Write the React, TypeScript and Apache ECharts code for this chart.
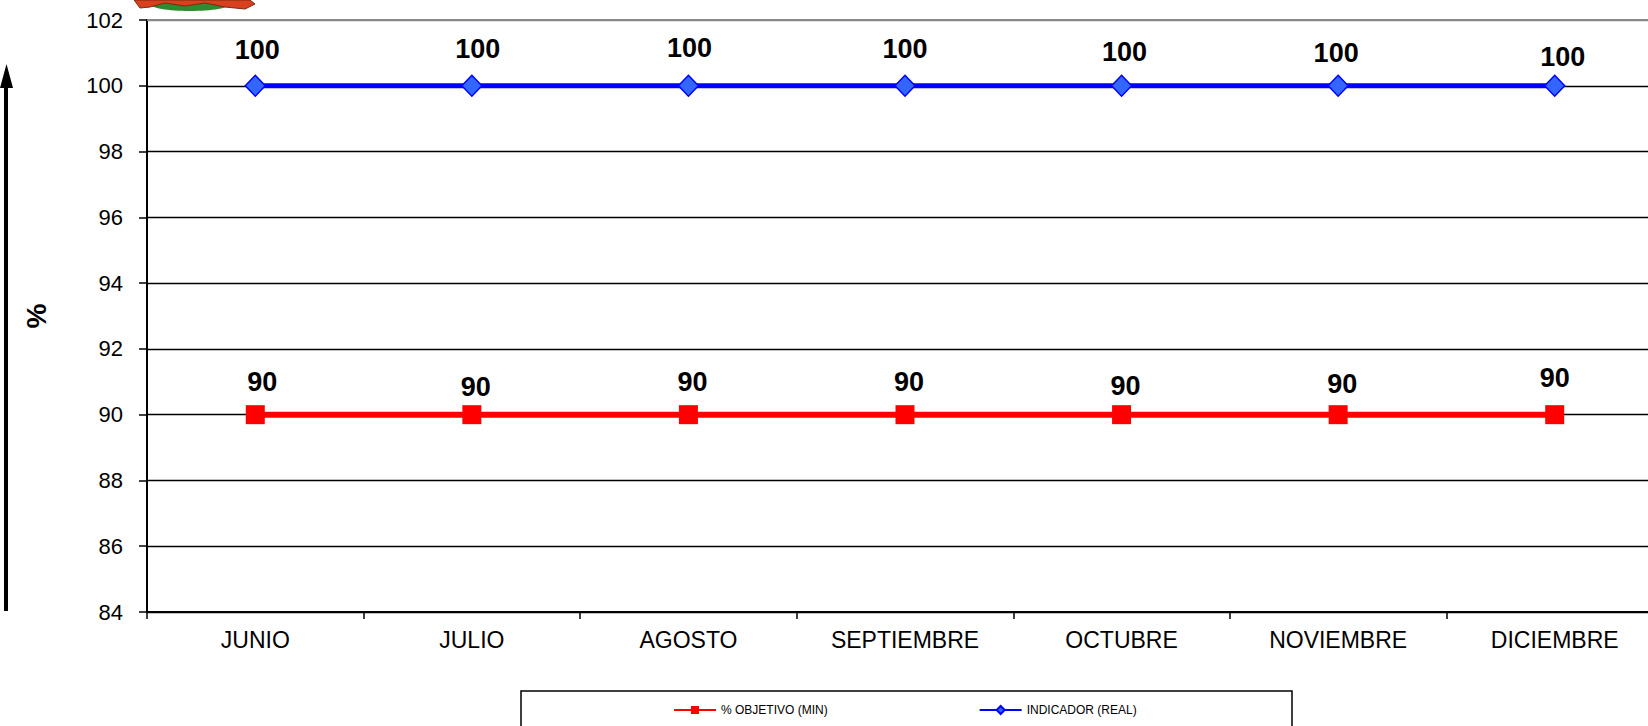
import React, { useEffect, useRef } from "react";
import * as echarts from "echarts";

const months = ["JUNIO", "JULIO", "AGOSTO", "SEPTIEMBRE", "OCTUBRE", "NOVIEMBRE", "DICIEMBRE"];
const objetivo = [90, 90, 90, 90, 90, 90, 90];
const indicador = [100, 100, 100, 100, 100, 100, 100];
const yMin = 84;
const yMax = 102;
const yStep = 2;

// label nudges (layout only)
const objLabelDx = [7, 4, 4, 4, 4, 4, 0];
const objLabelDy = [-33, -28, -33, -33, -29, -31, -37];
const indLabelDx = [2, 6, 1, 0, 3, -2, 8];
const indLabelDy = [-36, -37, -38, -37, -34, -33, -29];

const FONT = "Liberation Sans, Arial, sans-serif";

export default function App() {
  const ref = useRef<HTMLDivElement>(null);
  useEffect(() => {
    if (!ref.current) return;
    const chart = echarts.init(ref.current, null, { renderer: "svg" });
    const labelBase = {
      show: true,
      position: "inside",
      color: "#000",
      fontSize: 27,
      fontWeight: "bold",
      fontFamily: FONT,
    };
    chart.setOption({
      animation: false,
      backgroundColor: "#fff",
      grid: {
        left: 147,
        top: 20,
        width: 1516,
        bottom: 114,
        containLabel: false,
        outerBoundsMode: "none",
      },
      legend: {
        left: 668,
        top: 699,
        itemWidth: 42,
        itemHeight: 10,
        itemGap: 151,
        textStyle: { fontSize: 12, color: "#000", fontFamily: FONT },
        data: ["% OBJETIVO (MIN)", "INDICADOR (REAL)"],
      },
      xAxis: {
        type: "category",
        data: months,
        boundaryGap: true,
        axisLine: { lineStyle: { color: "#000", width: 2 } },
        axisTick: { show: true, length: 7, lineStyle: { color: "#000", width: 1.5 } },
        axisLabel: { color: "#000", fontSize: 23, fontFamily: FONT, margin: 16 },
        splitLine: { show: false },
      },
      yAxis: {
        type: "value",
        min: yMin,
        max: yMax,
        interval: yStep,
        name: "%",
        nameLocation: "middle",
        nameGap: 97,
        nameRotate: 90,
        nameTextStyle: { color: "#000", fontSize: 28, fontWeight: "bold", fontFamily: FONT },
        axisLine: { show: true, lineStyle: { color: "#000", width: 2 } },
        axisTick: { show: true, length: 8, lineStyle: { color: "#000", width: 1.5 } },
        axisLabel: { color: "#000", fontSize: 22, fontFamily: FONT, margin: 24 },
        splitLine: {
          show: true,
          lineStyle: {
            color: ["#000", "#000", "#000", "#000", "#000", "#000", "#000", "#000", "#000", "#888"],
            width: 1.3,
          },
        },
      },
      series: [
        {
          name: "% OBJETIVO (MIN)",
          type: "line",
          data: objetivo.map((v, i) => ({ value: v, label: { offset: [objLabelDx[i], objLabelDy[i]] } })),
          symbol: "rect",
          symbolSize: 19,
          lineStyle: { color: "#FF0000", width: 6 },
          itemStyle: { color: "#FF0000" },
          label: labelBase,
          z: 3,
          markLine: {
            silent: true,
            symbol: "none",
            label: { show: false },
            lineStyle: { color: "#888", width: 2, type: "solid" },
            data: [{ yAxis: yMax }],
          },
        },
        {
          name: "INDICADOR (REAL)",
          type: "line",
          data: indicador.map((v, i) => ({ value: v, label: { offset: [indLabelDx[i], indLabelDy[i]] } })),
          symbol: "diamond",
          symbolSize: [20, 21],
          lineStyle: { color: "#0000FF", width: 5 },
          itemStyle: { color: "#3366FF", borderColor: "#0000FF", borderWidth: 1.5 },
          label: labelBase,
          z: 4,
        },
      ],
      graphic: [
        // legend frame
        {
          type: "rect",
          shape: { x: 521, y: 691, width: 771, height: 60 },
          style: { fill: "none", stroke: "#000", lineWidth: 1.5 },
          silent: true,
        },
        // vertical arrow
        {
          type: "line",
          shape: { x1: 6, y1: 611, x2: 6, y2: 84 },
          style: { stroke: "#000", lineWidth: 4 },
          silent: true,
        },
        {
          type: "polygon",
          shape: { points: [[0, 88], [13, 88], [6.5, 64]] },
          style: { fill: "#000" },
          silent: true,
        },
        // emblem fragment at top
        {
          type: "ellipse",
          shape: { cx: 190, cy: 4, rx: 40, ry: 7 },
          style: { fill: "#2E8B2E" },
          silent: true,
        },
        {
          type: "polygon",
          shape: {
            points: [
              [134, 0], [140, 8], [150, 7], [165, 3], [185, 6], [205, 3], [225, 7], [245, 9], [255, 4], [250, 0],
            ],
          },
          style: { fill: "#D8401E", stroke: "#7A2A10", lineWidth: 1 },
          silent: true,
        },
      ],
    });
    return () => chart.dispose();
  }, []);
  return (
    <div
      ref={ref}
      style={{ position: "absolute", left: 0, top: 0, width: 1648, height: 726 }}
    />
  );
}
